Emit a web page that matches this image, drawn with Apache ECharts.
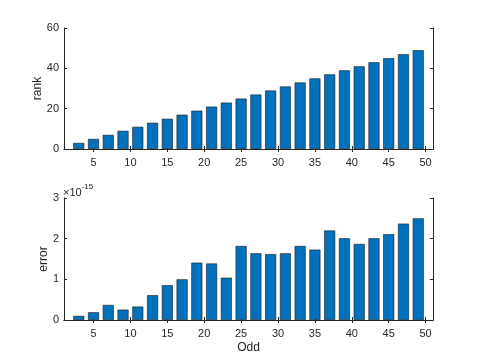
<!DOCTYPE html>
<html><head><meta charset="utf-8">
<script src="https://cdn.jsdelivr.net/npm/echarts@6/dist/echarts.min.js"></script>
<style>html,body{margin:0;padding:0;background:#fff}#c{width:480px;height:360px}</style>
</head><body><div id="c"></div>
<script>
const odd = [3,5,7,9,11,13,15,17,19,21,23,25,27,29,31,33,35,37,39,41,43,45,47,49];
const rank = [3,5,7,9,11,13,15,17,19,21,23,25,27,29,31,33,35,37,39,41,43,45,47,49];
// error values in units of 1e-15
const errorE15 = [0.10,0.19,0.37,0.255,0.33,0.61,0.855,1.0,1.41,1.39,1.04,1.82,1.64,1.62,1.64,1.82,1.73,2.2,2.01,1.87,2.01,2.11,2.37,2.5];
const xTicks = [5,10,15,20,25,30,35,40,45,50];
const rankTicks = [0,20,40,60];
const errTicks = [0,1,2,3];

const FONT = 'Liberation Sans, Arial, Helvetica, sans-serif';
const TXT = '#262626';
const chart = echarts.init(document.getElementById('c'), null, {renderer:'canvas'});

function xAxis(gi, show){
  return {
    type:'value', gridIndex:gi, min:1, max:51, position: show?'bottom':'top',
    axisLine:{show:true, lineStyle:{color:TXT, width:1}},
    axisTick:{show:true, inside:true, length:3, customValues:xTicks, lineStyle:{color:TXT}},
    axisLabel:{show:show, customValues:xTicks, color:TXT, fontFamily:FONT, fontSize:11, margin:8},
    splitLine:{show:false},
    name: (show && gi===1)?'Odd':'', nameLocation:'middle', nameGap:22, nameMoveOverlap:false,
    nameTextStyle:{color:TXT, fontFamily:FONT, fontSize:12}
  };
}
function yAxis(gi, show, max, ticks, name, gap){
  return {
    type:'value', gridIndex:gi, min:0, max:max, position: show?'left':'right',
    axisLine:{show:true, lineStyle:{color:TXT, width:1}},
    axisTick:{show:true, inside:true, length:3, customValues:ticks, lineStyle:{color:TXT}},
    axisLabel:{show:show, customValues:ticks, color:TXT, fontFamily:FONT, fontSize:11, margin:5},
    splitLine:{show:false},
    name: show?name:'', nameLocation:'middle', nameGap:gap||20, nameMoveOverlap:false,
    nameTextStyle:{color:TXT, fontFamily:FONT, fontSize:12}
  };
}
const barStyle = {color:'#0072BD', borderColor:'#1a1a1a', borderWidth:0.6};
chart.setOption({
  backgroundColor:'#fff',
  animation:false,
  grid:[
    {left:64, top:28, width:369, height:121},
    {left:64, top:198, width:369, height:122}
  ],
  xAxis:[xAxis(0,true), xAxis(0,false), xAxis(1,true), xAxis(1,false)],
  yAxis:[yAxis(0,true,60,rankTicks,'rank',20), yAxis(0,false,60,rankTicks,''),
         yAxis(1,true,3,errTicks,'error',14), yAxis(1,false,3,errTicks,'')],
  graphic:[{
    type:'text', left:63, top:183,
    style:{text:'{a|×10}{b|-15}', rich:{
      a:{fontFamily:FONT, fontSize:11, fill:TXT, verticalAlign:'bottom'},
      b:{fontFamily:FONT, fontSize:8, fill:TXT, verticalAlign:'top', padding:[0,0,7,0]}
    }}
  }],
  series:[
    {type:'bar', xAxisIndex:0, yAxisIndex:0, barWidth:11, itemStyle:barStyle,
     data: odd.map((x,i)=>[x, rank[i]])},
    {type:'bar', xAxisIndex:2, yAxisIndex:2, barWidth:11, itemStyle:barStyle,
     data: odd.map((x,i)=>[x, errorE15[i]])}
  ]
});
</script></body></html>
